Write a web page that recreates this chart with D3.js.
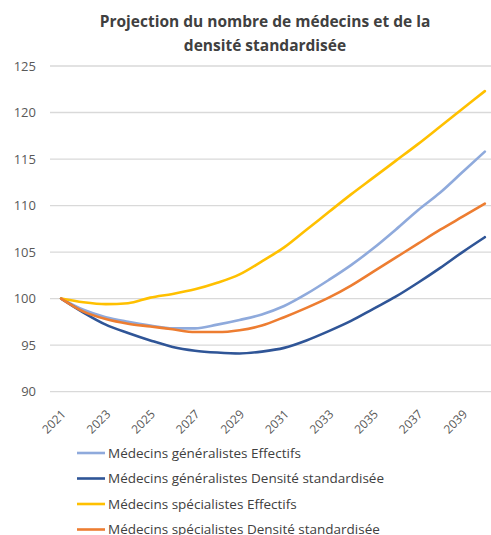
<!DOCTYPE html>
<html>
<head>
<meta charset="utf-8">
<script src="https://cdn.jsdelivr.net/npm/d3@7"></script>
<style>
    body { margin: 0; background: #fff; }
    svg { display: block; }
    text { font-family: "Open Sans", "Noto Sans", sans-serif; }
</style>
</head>
<body>
<div id="chart"></div>
<script>
// Years and series (index 2021 = 100)
const years = d3.range(2021, 2041);
const tickYears = [2021, 2023, 2025, 2027, 2029, 2031, 2033, 2035, 2037, 2039];
const yTicks = [90, 95, 100, 105, 110, 115, 120, 125];

const generalistesEffectifs = [100, 98.8, 98.0, 97.5, 97.1, 96.8, 96.8, 97.2, 97.7, 98.3, 99.2, 100.5, 102.0, 103.6, 105.4, 107.4, 109.5, 111.4, 113.6, 115.8];
const generalistesDensite   = [100, 98.5, 97.2, 96.3, 95.5, 94.8, 94.4, 94.2, 94.1, 94.3, 94.7, 95.5, 96.5, 97.6, 98.9, 100.2, 101.7, 103.3, 105.0, 106.6];
const specialistesEffectifs = [100, 99.6, 99.4, 99.5, 100.1, 100.5, 101.0, 101.7, 102.6, 104.0, 105.5, 107.4, 109.3, 111.2, 113.0, 114.8, 116.6, 118.5, 120.4, 122.3];
const specialistesDensite   = [100, 98.6, 97.8, 97.3, 97.0, 96.7, 96.4, 96.4, 96.6, 97.1, 98.0, 99.0, 100.1, 101.4, 102.9, 104.4, 105.9, 107.4, 108.8, 110.2];

const seriesNames = [
    'Médecins généralistes Effectifs',
    'Médecins généralistes Densité standardisée',
    'Médecins spécialistes Effectifs',
    'Médecins spécialistes Densité standardisée'
];
const seriesValues = [generalistesEffectifs, generalistesDensite, specialistesEffectifs, specialistesDensite];
const colors = ['#8faadc', '#2f5597', '#ffc000', '#ed7d31'];

const width = 491, height = 535;
const svg = d3.select('#chart').append('svg')
    .attr('width', width)
    .attr('height', height);

// Title
const title = svg.append('text')
    .attr('text-anchor', 'middle')
    .attr('fill', '#404040')
    .attr('font-size', 15.5)
    .attr('font-weight', 'bold');
title.append('tspan').attr('x', 265).attr('y', 27).text('Projection du nombre de médecins et de la');
title.append('tspan').attr('x', 265).attr('y', 51).text('densité standardisée');

// Scales
const x = d3.scalePoint().domain(years).range([50, 496]).padding(0.5);
const y = d3.scaleLinear().domain([90, 125]).range([391.6, 66]);

// Gridlines
svg.append('g')
    .selectAll('line')
    .data(yTicks)
    .enter().append('line')
    .attr('x1', 50)
    .attr('x2', 496)
    .attr('y1', d => y(d))
    .attr('y2', d => y(d))
    .attr('stroke', '#d9d9d9')
    .attr('stroke-width', 1.3);

// Y axis labels
const yAxis = svg.append('g')
    .attr('transform', 'translate(36,0)')
    .call(d3.axisLeft(y).tickValues(yTicks).tickSize(0).tickPadding(0));
yAxis.select('.domain').remove();
yAxis.selectAll('text')
    .attr('font-family', '"Open Sans", sans-serif')
    .attr('font-size', 13)
    .attr('fill', '#595959');

// X axis labels
const xAxis = svg.append('g')
    .attr('transform', 'translate(0,397)')
    .call(d3.axisBottom(x).tickValues(tickYears).tickSize(0).tickPadding(0));
xAxis.select('.domain').remove();
xAxis.selectAll('text')
    .attr('font-family', '"Open Sans", sans-serif')
    .attr('font-size', 12)
    .attr('fill', '#595959')
    .attr('text-anchor', 'end')
    .attr('dy', 0)
    .attr('transform', 'translate(5,18) rotate(-45)');

// Lines
const line = d3.line()
    .x((d, i) => x(years[i]))
    .y(d => y(d))
    .curve(d3.curveMonotoneX);

svg.append('g')
    .selectAll('path')
    .data(seriesValues)
    .enter().append('path')
    .attr('d', line)
    .attr('fill', 'none')
    .attr('stroke', (d, i) => colors[i])
    .attr('stroke-width', 2.6)
    .attr('stroke-linejoin', 'round')
    .attr('stroke-linecap', 'round');

// Legend (last row is cut by the bottom edge, as in the original)
const legend = svg.append('g')
    .selectAll('g')
    .data(seriesNames)
    .enter().append('g')
    .attr('transform', (d, i) => `translate(77,${453 + i * 25.5})`);

legend.append('line')
    .attr('x1', 0)
    .attr('x2', 28)
    .attr('stroke', (d, i) => colors[i])
    .attr('stroke-width', 2.6);

legend.append('text')
    .attr('x', 31)
    .attr('dy', '0.35em')
    .attr('font-size', 13.5)
    .attr('fill', '#404040')
    .text(d => d);
</script>
</body>
</html>
